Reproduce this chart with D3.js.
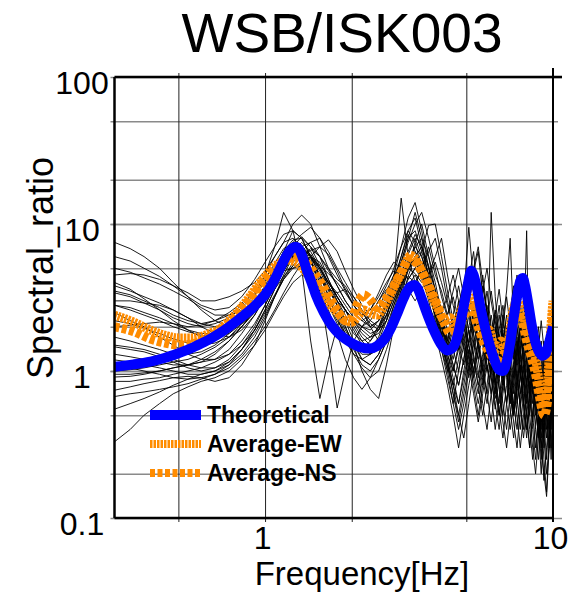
<!DOCTYPE html>
<html>
<head>
  <meta charset="utf-8" />
  <title>WSB/ISK003</title>
  <script src="https://d3js.org/d3.v7.min.js"></script>
  <style>
    body {
      margin: 0;
      background: #fff;
      font-family: "Liberation Sans", Arial, Helvetica, sans-serif;
    }
    svg { display: block; }
    .grid line { stroke: #8a8a8a; stroke-width: 1.6px; }
    .vgrid line { stroke: #222; stroke-width: 1px; }
    .record { fill: none; stroke: #000; stroke-width: 0.9px; }
    .tick-label text { font-size: 32px; fill: #000; }
    .legend text { font-size: 23px; font-weight: bold; }
  </style>
</head>
<body>
<svg width="584" height="593"></svg>

<script>
  // ---- data ----
  const freqs = [
    0.3, 0.34, 0.38, 0.43, 0.48, 0.54, 0.6, 0.67, 0.75, 0.83,
    0.92, 1.0, 1.08, 1.16, 1.25, 1.34, 1.44, 1.55, 1.66, 1.78,
    1.9, 2.03, 2.17, 2.32, 2.48, 2.64, 2.8, 2.97, 3.14, 3.32,
    3.5, 3.7, 3.9, 4.1, 4.3, 4.5, 4.7, 4.9, 5.1, 5.3,
    5.5, 5.7, 5.9, 6.1, 6.3, 6.5, 6.7, 6.9, 7.1, 7.3,
    7.5, 7.7, 7.9, 8.1, 8.3, 8.5, 8.7, 8.9, 9.1, 9.3,
    9.5, 9.7, 9.85, 10.0
  ];

  const rec01 = [
    7.5, 6.8, 6.0, 5.0, 4.0, 3.2, 2.8, 2.6, 2.7, 3.2,
    4.2, 5.5, 7.0, 8.5, 9.0, 8.0, 6.0, 4.5, 3.5, 3.0,
    2.6, 2.2, 2.0, 2.4, 3.0, 3.8, 5.0, 7.0, 9.0, 7.5,
    5.0, 3.5, 2.5, 2.0, 1.6, 2.2, 1.5, 2.8, 3.5, 2.4,
    1.6, 2.2, 1.3, 1.8, 1.1, 1.5, 0.9, 1.4, 2.0, 1.2,
    2.6, 1.5, 3.0, 1.6, 1.1, 1.7, 0.8, 1.2, 0.6, 1.0,
    0.5, 1.3, 0.8, 1.8
  ];
  const rec02 = [
    6.0, 5.6, 5.0, 4.4, 3.8, 3.2, 2.6, 2.2, 2.0, 2.1,
    2.5, 3.2, 4.2, 5.6, 7.0, 8.2, 7.0, 5.2, 4.0, 3.2,
    2.6, 2.0, 1.6, 1.4, 1.7, 2.4, 3.4, 4.6, 6.2, 8.0,
    6.0, 4.2, 3.0, 2.2, 1.5, 1.0, 1.4, 2.4, 4.2, 6.5,
    3.0, 1.8, 1.2, 12.0, 3.2, 1.6, 1.0, 0.6, 1.1, 2.0,
    3.5, 2.0, 1.2, 0.8, 1.5, 2.4, 1.3, 0.7, 0.4, 0.9,
    1.6, 0.7, 1.1, 2.5
  ];
  const rec03 = [
    4.5, 4.6, 4.5, 4.2, 3.8, 3.4, 3.0, 3.0, 3.2, 3.5,
    4.0, 4.8, 6.0, 7.5, 10.0, 11.5, 10.0, 7.0, 5.0, 3.8,
    3.0, 2.5, 2.2, 2.0, 2.2, 2.8, 3.6, 5.2, 7.5, 10.0,
    12.0, 8.0, 5.0, 3.2, 2.3, 1.8, 2.5, 3.4, 2.6, 1.8,
    2.4, 1.5, 2.2, 3.5, 2.2, 1.4, 1.8, 1.2, 2.3, 1.5,
    1.1, 1.8, 2.4, 1.3, 0.9, 1.4, 1.0, 0.6, 1.1, 0.7,
    1.2, 0.9, 0.5, 1.4
  ];
  const rec04 = [
    4.0, 3.6, 3.1, 2.6, 2.2, 1.9, 1.7, 1.7, 1.9, 2.4,
    3.2, 4.5, 6.0, 7.5, 8.0, 7.0, 5.5, 4.2, 3.6, 3.4,
    3.6, 3.2, 2.6, 2.0, 1.6, 1.8, 2.5, 3.5, 4.8, 6.0,
    5.5, 4.0, 2.8, 1.8, 1.2, 0.8, 1.2, 2.0, 3.0, 4.8,
    6.5, 3.2, 1.8, 1.1, 0.7, 1.2, 2.2, 3.5, 8.0, 2.0,
    0.6, 0.9, 1.6, 2.5, 1.4, 0.8, 0.5, 0.9, 0.6, 0.35,
    0.7, 1.1, 0.6, 1.2
  ];
  const rec05 = [
    3.0, 3.0, 2.9, 2.8, 2.6, 2.3, 2.1, 2.0, 2.1, 2.4,
    3.0, 3.8, 5.0, 6.5, 7.5, 8.5, 9.5, 8.0, 6.0, 4.5,
    3.5, 2.8, 2.4, 2.6, 3.4, 4.5, 5.5, 5.0, 4.2, 5.0,
    6.5, 9.8, 10.0, 6.0, 3.5, 2.2, 1.5, 1.1, 1.6, 2.6,
    2.0, 3.8, 2.5, 1.6, 2.4, 1.5, 0.9, 1.4, 2.6, 3.8,
    2.0, 1.2, 0.8, 1.3, 2.0, 1.2, 0.8, 1.3, 0.8, 1.6,
    0.9, 0.5, 1.0, 1.6
  ];
  const rec06 = [
    2.5, 2.2, 2.0, 1.7, 1.5, 1.3, 1.2, 1.2, 1.4, 1.8,
    2.4, 3.2, 4.4, 6.0, 7.5, 7.2, 5.5, 4.0, 3.0, 2.4,
    1.8, 1.4, 1.1, 1.0, 1.2, 1.6, 2.4, 3.6, 5.2, 6.0,
    4.5, 3.0, 2.0, 1.4, 1.0, 1.5, 2.4, 1.6, 1.1, 1.8,
    3.0, 4.5, 2.6, 1.5, 0.9, 0.6, 0.9, 1.5, 1.1, 0.7,
    1.2, 2.0, 1.3, 0.8, 0.5, 0.8, 1.2, 0.7, 0.45, 0.8,
    0.5, 0.3, 0.6, 14.0
  ];
  const rec07 = [
    1.7, 1.6, 1.5, 1.4, 1.3, 1.3, 1.35, 1.5, 1.8, 2.2,
    2.8, 3.5, 4.5, 5.5, 6.0, 6.5, 7.5, 8.0, 6.5, 5.0,
    4.0, 3.2, 2.6, 2.2, 2.0, 2.4, 3.2, 4.2, 5.0, 4.6,
    4.0, 4.6, 6.0, 8.0, 4.5, 2.8, 2.0, 1.4, 0.9, 1.3,
    2.2, 1.6, 1.2, 1.8, 2.6, 1.8, 1.2, 2.0, 1.4, 0.9,
    1.4, 2.2, 1.5, 9.0, 0.7, 1.2, 1.8, 1.1, 0.7, 1.2,
    0.8, 1.4, 0.7, 1.1
  ];
  const rec08 = [
    1.46, 1.4, 1.35, 1.25, 1.15, 1.05, 1.0, 1.05, 1.2, 1.5,
    2.0, 2.8, 3.8, 5.0, 6.5, 7.5, 6.5, 5.0, 3.8, 3.0,
    2.4, 1.9, 1.5, 1.3, 1.4, 1.8, 2.6, 3.8, 5.5, 7.0,
    8.0, 6.0, 4.0, 2.5, 1.6, 1.1, 0.8, 1.2, 2.0, 2.8,
    1.6, 1.0, 0.7, 1.1, 1.8, 2.8, 1.6, 1.0, 0.6, 0.9,
    1.5, 1.0, 0.6, 0.9, 1.4, 0.9, 0.6, 0.35, 0.6, 1.0,
    0.6, 0.9, 1.4, 2.2
  ];
  const rec09 = [
    1.19, 1.15, 1.1, 1.05, 1.0, 0.95, 0.95, 1.0, 1.15, 1.4,
    1.8, 2.4, 3.2, 4.2, 5.2, 6.0, 6.8, 6.0, 4.8, 3.8,
    3.0, 2.5, 2.2, 2.4, 3.0, 3.6, 4.0, 3.6, 3.2, 3.8,
    5.0, 3.6, 2.4, 1.6, 1.1, 0.7, 0.5, 0.8, 1.3, 2.0,
    2.6, 1.8, 1.1, 0.7, 1.0, 1.6, 2.4, 1.5, 0.9, 0.55,
    0.8, 1.3, 2.0, 1.2, 0.7, 0.45, 0.7, 1.1, 0.6, 0.3,
    0.5, 0.8, 0.4, 0.9
  ];
  const rec10 = [
    0.91, 0.92, 0.95, 1.0, 1.05, 1.1, 1.2, 1.35, 1.6, 2.0,
    2.6, 3.4, 4.2, 4.8, 5.0, 5.2, 6.0, 7.0, 7.8, 6.5,
    4.8, 3.6, 2.8, 2.4, 2.6, 3.2, 4.5, 7.0, 11.0, 14.0,
    9.0, 5.0, 3.0, 2.0, 1.4, 1.9, 3.0, 2.0, 1.3, 0.9,
    1.4, 2.2, 3.5, 2.0, 1.2, 0.8, 0.5, 0.8, 1.3, 2.0,
    1.2, 0.7, 1.1, 1.8, 1.0, 0.6, 0.9, 0.5, 0.3, 0.55,
    0.9, 0.5, 0.8, 1.5
  ];
  const rec11 = [
    0.74, 0.78, 0.82, 0.86, 0.9, 0.92, 0.9, 0.85, 0.9, 1.1,
    1.5, 2.2, 3.2, 4.5, 6.0, 7.0, 7.5, 6.0, 4.2, 3.0,
    2.2, 1.6, 1.2, 1.1, 1.3, 1.8, 2.8, 4.0, 5.5, 7.0,
    6.0, 4.2, 2.8, 1.8, 1.2, 0.8, 0.5, 0.35, 0.6, 1.0,
    1.6, 1.1, 0.7, 0.45, 0.8, 1.3, 0.9, 0.6, 1.0, 1.6,
    0.9, 0.6, 0.4, 0.7, 1.1, 0.7, 0.4, 0.25, 0.5, 0.8,
    0.4, 0.6, 0.3, 0.7
  ];
  const rec12 = [
    0.67, 0.7, 0.72, 0.75, 0.78, 0.82, 0.88, 0.95, 1.05, 1.25,
    1.6, 2.0, 2.6, 3.4, 4.4, 5.4, 6.0, 5.5, 4.2, 3.2,
    2.6, 2.1, 1.7, 1.5, 1.4, 1.7, 2.3, 3.2, 4.2, 5.0,
    4.2, 3.2, 2.4, 1.8, 1.3, 1.0, 1.5, 2.2, 1.5, 1.0,
    0.7, 1.1, 1.7, 1.2, 0.8, 0.5, 0.8, 1.3, 0.8, 0.5,
    0.7, 1.1, 0.6, 0.4, 0.7, 1.1, 0.6, 0.4, 0.2, 0.45,
    0.7, 1.0, 0.5, 0.9
  ];
  const rec13 = [
    0.33, 0.4, 0.5, 0.6, 0.7, 0.78, 0.85, 0.9, 1.0, 1.2,
    1.5, 1.9, 2.5, 3.2, 4.0, 4.5, 4.2, 3.5, 2.6, 1.8,
    1.2, 0.9, 0.75, 0.9, 1.2, 1.6, 2.2, 3.0, 3.8, 4.5,
    3.6, 2.6, 1.8, 1.2, 0.8, 0.5, 0.3, 0.5, 0.8, 1.2,
    0.8, 0.5, 0.8, 1.4, 0.9, 0.55, 0.35, 0.6, 1.0, 0.6,
    0.4, 0.7, 1.1, 0.65, 0.4, 0.25, 0.45, 0.7, 0.35, 0.18,
    0.3, 0.5, 0.25, 0.6
  ];
  const rec14 = [
    2.0, 2.05, 2.1, 2.15, 2.1, 2.0, 2.05, 2.2, 2.5, 2.9,
    3.4, 4.5, 7.0, 12.0, 9.0, 8.0, 7.0, 6.0, 5.0, 4.2,
    3.8, 3.0, 2.5, 2.1, 1.9, 2.2, 4.0, 15.0, 6.0, 4.0,
    5.0, 7.0, 4.5, 3.5, 2.4, 3.5, 5.0, 3.2, 9.5, 4.0,
    2.5, 3.5, 5.0, 3.0, 2.0, 1.4, 2.0, 3.2, 2.0, 1.3,
    2.0, 3.0, 1.8, 1.2, 1.8, 1.1, 0.7, 1.0, 1.6, 1.0,
    0.6, 1.0, 2.0, 3.0
  ];
  const rec15 = [
    1.3, 1.25, 1.2, 1.15, 1.1, 1.1, 1.15, 1.3, 1.6, 2.0,
    2.6, 3.4, 4.4, 5.4, 6.0, 5.6, 4.6, 3.6, 2.8, 2.2,
    1.8, 1.5, 1.4, 1.6, 2.0, 2.6, 3.4, 4.0, 4.4, 4.0,
    3.4, 2.8, 2.2, 1.7, 2.4, 3.2, 2.2, 1.5, 1.0, 1.5,
    2.2, 1.5, 1.0, 1.4, 2.0, 1.3, 0.8, 1.2, 1.8, 1.1,
    1.6, 0.9, 1.4, 2.2, 1.3, 0.8, 1.2, 0.7, 1.0, 0.5,
    0.8, 1.2, 0.7, 1.3
  ];
  const rec16 = [
    3.4, 3.2, 2.9, 2.6, 2.3, 2.1, 2.0, 2.1, 2.3, 2.7,
    3.3, 4.0, 5.0, 6.0, 6.5, 6.0, 5.0, 4.4, 4.0, 3.4,
    2.8, 2.3, 2.0, 1.8, 1.9, 2.4, 3.2, 4.6, 6.5, 8.5,
    7.0, 5.0, 3.6, 2.6, 1.9, 1.4, 1.0, 1.5, 2.4, 1.6,
    1.2, 0.8, 1.2, 1.9, 1.3, 0.9, 1.5, 2.4, 1.5, 3.0,
    4.5, 2.5, 1.5, 1.0, 0.7, 1.0, 1.5, 0.9, 0.5, 0.7,
    1.1, 0.6, 0.9, 1.8
  ];
  const rec17 = [
    1.1, 1.05, 1.0, 0.95, 0.9, 0.88, 0.9, 0.95, 1.1, 1.4,
    1.9, 2.6, 3.6, 4.8, 6.0, 6.8, 6.0, 4.5, 3.2, 2.3,
    1.7, 1.3, 1.05, 0.9, 1.0, 1.4, 2.0, 3.0, 4.4, 6.0,
    7.0, 5.2, 3.5, 2.4, 1.7, 1.2, 1.8, 2.8, 1.9, 1.3,
    0.9, 1.3, 2.0, 1.3, 0.8, 1.2, 1.9, 1.2, 0.8, 0.5,
    0.9, 1.5, 0.9, 0.6, 1.0, 1.6, 1.0, 0.6, 0.35, 0.6,
    0.35, 0.7, 1.2, 2.0
  ];
  const rec18 = [
    2.2, 2.1, 1.95, 1.8, 1.65, 1.55, 1.5, 1.55, 1.7, 2.0,
    2.5, 3.0, 3.6, 4.4, 5.2, 6.0, 6.6, 7.0, 6.2, 4.8,
    3.6, 2.8, 2.4, 2.6, 3.2, 4.0, 4.8, 4.2, 3.6, 3.0,
    3.6, 4.5, 5.5, 4.0, 2.8, 2.0, 1.4, 2.2, 3.4, 2.2,
    1.4, 1.0, 1.6, 2.4, 1.6, 1.1, 0.8, 1.3, 2.0, 1.3,
    0.9, 0.6, 1.0, 1.6, 1.0, 1.5, 0.9, 0.6, 0.9, 0.45,
    0.7, 1.1, 0.6, 1.1
  ];
  const rec19 = [
    5.0, 4.7, 4.3, 3.9, 3.5, 3.1, 2.7, 2.4, 2.4, 2.6,
    3.0, 3.5, 4.2, 5.0, 5.8, 6.4, 6.0, 5.0, 4.0, 3.2,
    2.6, 2.2, 1.9, 1.7, 1.8, 2.2, 3.0, 4.0, 5.0, 6.0,
    5.0, 3.8, 2.8, 2.0, 1.5, 2.0, 2.8, 4.0, 2.6, 1.8,
    1.2, 1.8, 2.8, 1.9, 1.3, 1.9, 2.8, 1.8, 1.2, 0.8,
    1.3, 2.0, 1.2, 0.8, 1.2, 0.7, 1.1, 1.6, 0.9, 0.5,
    0.8, 0.5, 0.9, 1.6
  ];
  const rec20 = [
    0.85, 0.85, 0.88, 0.9, 0.95, 1.0, 1.05, 1.15, 1.3, 1.6,
    2.1, 2.8, 3.8, 5.0, 6.2, 7.0, 6.2, 5.0, 3.8, 2.8,
    2.0, 1.5, 1.2, 1.1, 1.3, 1.7, 2.3, 3.0, 3.6, 4.0,
    3.4, 2.6, 2.0, 1.5, 1.1, 0.8, 0.6, 0.9, 1.4, 0.9,
    0.6, 0.9, 1.4, 0.9, 0.55, 0.9, 1.4, 0.9, 0.55, 0.35,
    0.6, 0.95, 0.6, 0.4, 0.65, 1.0, 0.6, 0.35, 0.5, 0.25,
    0.15, 0.35, 0.6, 1.0
  ];
  const rec21 = [
    3.8, 3.5, 3.2, 2.9, 2.6, 2.3, 2.0, 1.8, 1.7, 1.9,
    2.4, 3.2, 4.5, 6.5, 9.0, 5.0, 1.6, 0.65, 1.2, 2.0,
    2.6, 2.2, 1.8, 1.6, 1.9, 2.6, 3.8, 5.5, 8.0, 12.0,
    8.0, 4.0, 2.2, 1.4, 0.9, 0.6, 1.0, 1.8, 1.2, 0.8,
    0.5, 0.8, 1.4, 0.9, 0.6, 0.4, 0.7, 1.1, 0.7, 0.45,
    0.3, 0.55, 0.9, 0.5, 0.3, 0.5, 0.8, 0.45, 0.25, 0.4,
    0.7, 0.4, 0.6, 1.2
  ];
  const rec22 = [
    1.0, 1.02, 1.05, 1.1, 1.15, 1.2, 1.3, 1.45, 1.7, 2.1,
    2.7, 3.5, 4.8, 6.5, 7.8, 8.0, 6.0, 3.5, 1.5, 0.56,
    1.0, 1.6, 2.0, 1.9, 2.2, 3.0, 4.2, 6.0, 9.0, 11.0,
    7.0, 4.5, 3.0, 2.0, 1.3, 0.9, 0.6, 1.0, 1.6, 2.6,
    1.5, 0.9, 0.6, 1.0, 1.5, 0.9, 0.6, 0.4, 0.7, 1.1,
    0.65, 0.4, 0.7, 1.2, 0.7, 0.4, 0.25, 0.45, 0.8, 0.45,
    0.25, 0.5, 0.8, 1.3
  ];
  const rec23 = [
    2.8, 2.6, 2.4, 2.2, 2.0, 1.85, 1.75, 1.7, 1.8, 2.1,
    2.6, 3.4, 4.6, 6.0, 7.0, 6.5, 5.5, 4.5, 3.6, 2.8,
    2.0, 1.5, 1.0, 0.75, 0.65, 1.1, 2.0, 3.2, 5.0, 7.5,
    10.0, 6.0, 3.5, 2.2, 1.6, 2.4, 3.8, 2.4, 1.5, 1.0,
    1.6, 2.6, 1.6, 1.0, 0.65, 1.0, 1.6, 1.0, 0.6, 1.0,
    1.7, 1.0, 0.6, 0.35, 0.6, 1.0, 0.6, 0.35, 0.6, 0.9,
    0.5, 0.3, 0.5, 1.0
  ];
  const rec24 = [
    1.5, 1.45, 1.4, 1.3, 1.2, 1.1, 1.05, 1.05, 1.15, 1.4,
    1.9, 2.6, 3.6, 4.8, 6.0, 6.2, 5.0, 3.8, 2.8, 2.1,
    1.6, 1.3, 1.2, 1.3, 1.6, 2.2, 3.0, 4.2, 5.8, 6.5,
    5.5, 3.8, 2.6, 1.7, 1.1, 0.7, 0.45, 0.7, 1.1, 0.7,
    0.45, 0.7, 1.1, 0.7, 0.4, 0.65, 1.0, 0.6, 0.4, 0.6,
    0.95, 0.55, 0.35, 0.55, 0.85, 0.5, 0.3, 0.5, 0.3, 0.2,
    0.14, 0.3, 0.5, 0.9
  ];
  const rec25 = [
    2.8, 2.7, 2.5, 2.3, 2.1, 1.9, 1.8, 1.8, 1.9, 2.2,
    2.8, 3.6, 4.8, 6.2, 7.2, 7.0, 6.0, 5.2, 4.6, 4.0,
    3.4, 2.8, 2.3, 2.0, 2.2, 2.8, 3.8, 5.5, 8.0, 9.0,
    6.5, 4.5, 3.2, 2.5, 3.2, 4.5, 3.0, 2.0, 1.5, 2.2,
    3.4, 2.2, 1.5, 1.0, 1.5, 2.4, 1.6, 1.0, 1.6, 2.6,
    1.6, 1.0, 1.5, 2.4, 1.4, 0.9, 1.4, 2.0, 1.2, 0.8,
    1.3, 0.8, 1.2, 2.0
  ];
  const rec26 = [
    0.55, 0.6, 0.65, 0.72, 0.8, 0.88, 0.95, 1.0, 1.1, 1.3,
    1.7, 2.3, 3.2, 4.3, 5.5, 6.2, 5.6, 4.4, 3.3, 2.5,
    1.9, 1.5, 1.3, 1.3, 1.5, 2.0, 2.8, 3.8, 5.0, 5.5,
    4.6, 3.4, 2.4, 1.6, 1.0, 0.6, 0.4, 0.6, 1.0, 1.6,
    1.0, 0.6, 0.4, 0.7, 1.2, 0.75, 0.45, 0.3, 0.5, 0.8,
    0.5, 0.3, 0.5, 0.8, 0.5, 0.3, 0.2, 0.35, 0.6, 0.35,
    0.2, 0.3, 0.45, 0.8
  ];
  const rec27 = [
    3.5, 3.3, 3.0, 2.7, 2.4, 2.2, 2.1, 2.2, 2.4, 2.8,
    3.4, 4.2, 5.4, 6.8, 7.4, 7.0, 6.0, 4.8, 3.6, 2.8,
    2.2, 1.8, 1.6, 1.7, 2.0, 2.8, 4.0, 6.0, 8.5, 6.5,
    4.8, 6.5, 8.0, 5.0, 3.0, 2.0, 1.4, 2.0, 3.0, 5.0,
    7.0, 4.0, 2.4, 1.6, 2.4, 3.6, 2.2, 1.4, 2.2, 3.2,
    2.0, 1.3, 2.0, 3.2, 2.0, 1.3, 0.9, 1.4, 2.2, 1.4,
    0.9, 1.5, 1.0, 1.8
  ];
  const rec28 = [
    0.95, 0.95, 0.97, 1.0, 1.05, 1.1, 1.15, 1.2, 1.3, 1.5,
    1.9, 2.5, 3.3, 4.2, 5.0, 5.6, 5.8, 5.0, 4.0, 3.2,
    2.6, 2.2, 2.0, 2.2, 2.7, 3.5, 4.5, 5.5, 6.0, 5.5,
    4.5, 3.4, 2.6, 2.0, 1.5, 1.1, 0.8, 1.2, 1.9, 1.2,
    0.8, 1.2, 1.9, 1.2, 0.8, 0.5, 0.8, 1.3, 0.8, 0.5,
    0.8, 1.3, 0.8, 0.5, 0.3, 0.5, 0.8, 1.2, 0.7, 0.4,
    0.6, 0.9, 0.6, 1.1
  ];
  const records = [rec01, rec02, rec03, rec04, rec05, rec06, rec07, rec08, rec09, rec10,
                   rec11, rec12, rec13, rec14, rec15, rec16, rec17, rec18, rec19, rec20,
                   rec21, rec22, rec23, rec24, rec25, rec26, rec27, rec28];

  const avgFreq = [
    0.3, 0.35, 0.4, 0.45, 0.5, 0.55, 0.6, 0.65, 0.7, 0.75, 0.8, 0.85, 0.9, 0.95,
    1.0, 1.05, 1.1, 1.15, 1.2, 1.25, 1.3, 1.35, 1.4,
    1.5, 1.6, 1.7, 1.8, 1.9, 2.0, 2.1, 2.2, 2.3,
    2.45, 2.6, 2.8, 3.0, 3.1, 3.2, 3.3, 3.45, 3.6, 3.8,
    4.0, 4.2, 4.4, 4.6, 4.8, 5.0, 5.2, 5.4, 5.6, 5.8,
    6.0, 6.3, 6.6, 6.9, 7.2, 7.5, 7.8, 8.1, 8.4, 8.7,
    9.0, 9.3, 9.6, 9.8, 10.0
  ];
  const avgEW = [
    2.4, 2.15, 1.9, 1.75, 1.68, 1.68, 1.72, 1.82, 1.95, 2.2, 2.5, 2.9, 3.35, 3.9,
    4.4, 4.9, 5.3, 5.6, 5.7, 5.6, 5.4, 5.0, 4.6,
    3.9, 3.2, 2.75, 2.45, 2.2, 2.15, 2.35, 2.6, 2.5,
    2.4, 2.8, 3.7, 4.8, 5.6, 6.1, 5.9, 5.1, 4.2, 3.2,
    2.6, 2.2, 2.3, 1.9, 2.6, 3.0, 3.4, 2.6, 2.1, 1.7,
    1.9, 1.4, 1.6, 1.3, 2.4, 3.0, 2.6, 1.9, 1.5, 1.2,
    0.8, 0.6, 0.9, 1.8, 3.0
  ];
  const avgNS = [
    2.0, 1.85, 1.65, 1.55, 1.5, 1.52, 1.6, 1.72, 1.9, 2.1, 2.4, 2.8, 3.2, 3.7,
    4.2, 4.7, 5.1, 5.5, 5.8, 6.0, 6.1, 5.9, 5.4,
    4.5, 3.7, 3.0, 2.5, 2.2, 2.3, 2.9, 3.3, 3.1,
    2.7, 3.0, 3.8, 4.9, 5.5, 5.8, 5.6, 5.0, 4.3, 3.4,
    2.7, 2.1, 1.8, 2.0, 2.2, 2.5, 2.9, 2.2, 1.8, 1.5,
    1.35, 1.15, 1.2, 1.45, 1.9, 2.4, 2.2, 1.6, 1.25, 0.95,
    0.65, 0.5, 0.65, 1.3, 2.5
  ];

  const theoFreq = [
    0.3, 0.35, 0.4, 0.45, 0.5, 0.55, 0.6, 0.65, 0.7, 0.75, 0.8, 0.85, 0.9, 0.95,
    1.0, 1.05, 1.1, 1.15, 1.2, 1.25, 1.28, 1.32, 1.36, 1.4, 1.45, 1.5,
    1.6, 1.7, 1.8, 1.9, 2.0, 2.15, 2.3, 2.45, 2.6, 2.75, 2.9,
    3.0, 3.1, 3.2, 3.3, 3.4, 3.5, 3.6, 3.75, 3.9, 4.1, 4.3, 4.5, 4.7, 4.85,
    5.0, 5.1, 5.2, 5.3, 5.45, 5.6, 5.8, 6.0, 6.25, 6.5, 6.7, 6.9,
    7.1, 7.3, 7.5, 7.7, 7.85, 8.0, 8.2, 8.4, 8.6, 8.8, 9.0, 9.2, 9.4, 9.6, 9.8, 10.0
  ];
  const theoVal = [
    1.07, 1.11, 1.16, 1.23, 1.32, 1.42, 1.54, 1.67, 1.82, 2.0, 2.2, 2.42, 2.65, 2.95,
    3.3, 3.8, 4.5, 5.4, 6.3, 6.9, 7.0, 6.6, 5.7, 4.8, 4.0, 3.3,
    2.5, 2.05, 1.8, 1.65, 1.55, 1.45, 1.42, 1.48, 1.65, 2.0, 2.55,
    3.0, 3.45, 3.75, 3.85, 3.6, 3.1, 2.65, 2.15, 1.8, 1.5, 1.38, 1.45, 1.85, 2.5,
    3.4, 4.2, 4.8, 4.5, 3.6, 2.7, 2.0, 1.55, 1.2, 1.02, 1.0, 1.15,
    1.55, 2.3, 3.2, 4.1, 4.3, 3.8, 2.9, 2.15, 1.7, 1.45, 1.32, 1.27, 1.3, 1.45, 1.7, 2.0
  ];

  const yGrid = [0.2, 0.5, 1, 2, 5, 10, 20, 50];
  const xGrid = [0.5, 1, 2, 5];
  const yLabels = [0.1, 1, 10, 100];
  const xLabels = [1, 10];
  const legendItems = ["Theoretical", "Average-EW", "Average-NS"];

  // ---- layout ----
  const plotLeft = 114.5, plotRight = 553, plotTop = 77, plotBottom = 518;
  const svg = d3.select("svg");
  const x = d3.scaleLog().domain([0.3, 10]).range([plotLeft, plotRight]);
  const y = d3.scaleLog().domain([0.1, 100]).range([plotBottom, plotTop]);

  svg.append("defs").append("clipPath").attr("id", "plot")
    .append("rect")
    .attr("x", plotLeft).attr("y", plotTop)
    .attr("width", plotRight - plotLeft).attr("height", plotBottom - plotTop);

  // horizontal grid (minor values)
  svg.append("g").attr("class", "grid")
    .attr("transform", `translate(${plotLeft - 4},0)`)
    .call(d3.axisLeft(y).tickValues(yGrid).tickSize(-(plotRight - plotLeft + 9)).tickFormat(""))
    .call(g => g.select(".domain").remove());

  // decade lines run a little further right
  svg.append("g").attr("class", "grid")
    .attr("transform", `translate(${plotLeft - 4},0)`)
    .call(d3.axisLeft(y).tickValues([0.1, 1, 10, 100]).tickSize(-(plotRight - plotLeft + 13)).tickFormat(""))
    .call(g => g.select(".domain").remove());

  // vertical grid
  svg.append("g").attr("class", "vgrid")
    .attr("transform", `translate(0,${plotBottom + 4})`)
    .call(d3.axisBottom(x).tickValues(xGrid).tickSize(-(plotBottom - plotTop + 8)).tickFormat(""))
    .call(g => g.select(".domain").remove());

  const plot = svg.append("g").attr("clip-path", "url(#plot)");

  const line = d3.line()
    .x(d => x(d[0]))
    .y(d => y(d[1]));
  const smooth = d3.line()
    .curve(d3.curveMonotoneX)
    .x(d => x(d[0]))
    .y(d => y(d[1]));

  const orange = "#ff8c00";

  plot.selectAll(".record")
    .data(records)
    .join("path")
    .attr("class", "record")
    .attr("d", r => line(d3.zip(freqs, r)));

  plot.append("path")
    .attr("d", smooth(d3.zip(avgFreq, avgNS)))
    .attr("fill", "none").attr("stroke", orange)
    .attr("stroke-width", 9).attr("stroke-dasharray", "5,2.5");

  plot.append("path")
    .attr("d", smooth(d3.zip(avgFreq, avgEW)))
    .attr("fill", "none").attr("stroke", orange)
    .attr("stroke-width", 9).attr("stroke-dasharray", "2.5,1");

  plot.append("path")
    .attr("d", smooth(d3.zip(theoFreq, theoVal)))
    .attr("fill", "none").attr("stroke", "#0000ff")
    .attr("stroke-width", 10);

  // frame
  const frame = svg.append("g").attr("stroke", "#000").attr("fill", "none");
  frame.append("line").attr("x1", plotLeft).attr("x2", plotRight + 9).attr("y1", plotTop).attr("y2", plotTop).attr("stroke-width", 2.5);
  frame.append("line").attr("x1", plotLeft).attr("x2", plotLeft).attr("y1", plotTop).attr("y2", plotBottom).attr("stroke-width", 2.5);
  frame.append("line").attr("x1", plotLeft).attr("x2", plotRight).attr("y1", plotBottom).attr("y2", plotBottom).attr("stroke-width", 2.5);
  frame.append("line").attr("x1", plotRight).attr("x2", plotRight).attr("y1", plotTop - 9).attr("y2", plotBottom + 4).attr("stroke-width", 2);

  // tick labels (centred in a column left of the axis)
  svg.append("g").attr("class", "tick-label")
    .attr("transform", "translate(82,0)")
    .call(d3.axisLeft(y).tickValues(yLabels).tickSize(0).tickPadding(0).tickFormat(d => String(d)))
    .call(g => g.select(".domain").remove())
    .call(g => g.selectAll("text")
      .attr("text-anchor", "middle").attr("x", 0).attr("dy", "0.5em")
      .attr("font-family", null).attr("font-size", null));

  svg.append("g").attr("class", "tick-label")
    .attr("transform", `translate(0,${plotBottom})`)
    .call(d3.axisBottom(x).tickValues(xLabels).tickSize(0).tickPadding(8).tickFormat(d => String(d)))
    .call(g => g.select(".domain").remove())
    .call(g => g.selectAll("text").attr("dx", -3).attr("font-family", null).attr("font-size", null));

  // titles
  svg.append("text")
    .attr("x", 342).attr("y", 52)
    .attr("text-anchor", "middle")
    .attr("font-size", 55)
    .text("WSB/ISK003");

  svg.append("text")
    .attr("x", 362).attr("y", 585)
    .attr("text-anchor", "middle")
    .attr("font-size", 33)
    .text("Frequency[Hz]");

  svg.append("text")
    .attr("transform", "translate(53,268) rotate(-90)")
    .attr("text-anchor", "middle")
    .attr("font-size", 36)
    .text("Spectral_ratio");

  // legend
  const legendStyle = [
    { color: "#0000ff", width: 10, dash: null },
    { color: orange, width: 8, dash: "2.5,1" },
    { color: orange, width: 8, dash: "5,2.5" }
  ];
  const legend = svg.append("g").attr("class", "legend");
  const rowY = d3.scalePoint().domain(legendItems).range([415, 473]);
  legendItems.forEach((name, i) => {
    const s = legendStyle[i];
    legend.append("line")
      .attr("x1", 150).attr("x2", 201)
      .attr("y1", rowY(name)).attr("y2", rowY(name))
      .attr("stroke", s.color).attr("stroke-width", s.width)
      .attr("stroke-dasharray", s.dash);
    legend.append("text")
      .attr("x", 207).attr("y", rowY(name) + 8)
      .text(name);
  });
</script>
</body>
</html>
